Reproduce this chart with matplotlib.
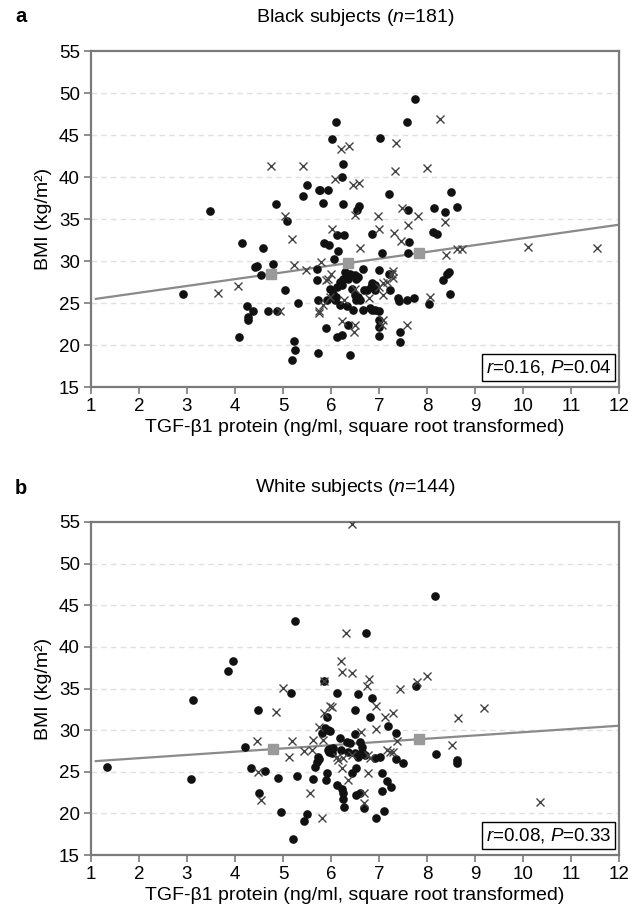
import matplotlib
matplotlib.use("Agg")
import matplotlib.pyplot as plt
import numpy as np

plt.rcParams['font.family'] = ['Liberation Sans', 'DejaVu Sans']
plt.rcParams['mathtext.fontset'] = 'custom'
plt.rcParams['mathtext.rm'] = 'Liberation Sans'
plt.rcParams['mathtext.it'] = 'Liberation Sans:italic'

# ---- panel a: Black subjects ----
a_dot_x = [5.50, 5.74, 5.42, 4.85, 3.48, 5.08, 4.15, 4.59,
           7.74, 6.10, 7.58, 6.03, 7.02, 6.24, 6.23, 5.77, 5.94, 7.20, 8.49, 5.83, 6.24, 6.59, 6.55,
           7.60, 8.15, 8.37, 8.62, 6.13, 6.27, 6.85, 8.12, 8.20, 7.63, 5.85, 5.96,
           2.92,
           6.15, 4.42, 4.45, 4.80, 6.06, 4.54, 5.70, 5.04, 5.31, 4.24, 4.38, 4.28, 4.28, 4.68, 4.88,
           5.72, 5.91, 6.36, 5.89, 6.12, 6.22, 4.09, 5.22, 5.25, 5.18, 5.72, 6.40,
           7.06, 7.61, 6.67, 7.00, 7.21, 8.45, 8.42, 8.33, 6.85, 6.92, 6.69, 7.22, 6.60, 7.40, 7.42,
           7.58, 7.72, 8.04, 8.47, 6.66, 6.85, 6.92, 7.01, 6.99, 6.99, 6.99, 7.44, 7.44,
           5.70, 6.29, 6.40, 6.50, 6.57, 6.53, 6.36, 6.26, 6.19, 6.83, 6.74, 6.92, 5.98, 6.12, 6.22,
           6.05, 6.43, 6.50, 6.53, 6.57, 6.08, 6.10, 6.19, 6.33, 6.46, 6.81]
a_dot_y = [39.0, 38.5, 37.7, 36.8, 36.0, 34.8, 32.1, 31.5,
           49.3, 46.6, 46.6, 44.5, 44.6, 41.5, 40.0, 38.5, 38.5, 38.0, 38.2, 36.9, 36.8, 36.5, 36.1,
           36.1, 36.3, 35.8, 36.4, 33.1, 33.1, 33.2, 33.4, 33.2, 32.3, 32.2, 31.9,
           26.1,
           31.2, 29.3, 29.4, 29.6, 30.2, 28.3, 27.7, 26.5, 25.0, 24.6, 24.0, 23.3, 23.0, 24.1, 24.1,
           25.4, 25.4, 22.4, 22.0, 20.9, 21.2, 21.0, 20.5, 19.4, 18.2, 19.1, 18.8,
           31.0, 30.9, 29.0, 28.9, 28.5, 28.7, 28.5, 27.7, 27.4, 27.1, 26.5, 26.5, 25.4, 25.6, 25.2,
           25.4, 25.6, 24.9, 26.1, 24.2, 24.2, 24.2, 24.1, 23.0, 22.2, 21.1, 21.5, 20.4,
           29.0, 28.7, 28.5, 28.3, 28.1, 27.8, 27.9, 27.9, 27.5, 26.9, 26.5, 26.5, 26.7, 26.9, 27.1,
           26.1, 26.7, 25.9, 25.4, 25.7, 25.4, 25.7, 24.8, 24.6, 24.2, 24.4]
a_cross_x = [4.76, 5.41, 5.05, 5.19, 8.28, 6.21, 6.38, 7.36, 7.33, 8.00, 6.09, 6.46, 6.58, 6.49,
             7.48, 6.98, 7.82, 7.60, 8.38, 7.01, 6.03, 7.31, 7.45, 6.60, 10.10, 11.54, 3.65, 5.23,
             5.48, 5.80, 4.07, 4.94, 5.75, 6.22, 6.47, 6.50, 8.40, 8.62, 8.72, 7.30, 7.27, 7.09,
             7.16, 6.99, 7.30, 7.09, 6.80, 8.06, 7.09, 7.06, 7.58, 5.93, 6.01, 5.90, 6.50, 5.98,
             6.27, 5.84, 5.76]
a_cross_y = [41.3, 41.3, 35.3, 32.6, 46.9, 43.3, 43.7, 44.0, 40.7, 41.1, 39.8, 39.0, 39.3, 35.5,
             36.3, 35.4, 35.4, 34.3, 34.6, 33.8, 33.8, 33.3, 32.4, 31.5, 31.7, 31.5, 26.2, 29.5,
             28.9, 29.9, 27.0, 24.1, 24.0, 22.8, 21.6, 22.4, 30.7, 31.4, 31.4, 28.8, 28.5, 27.4,
             27.5, 26.9, 28.0, 26.0, 25.6, 25.7, 23.0, 22.4, 22.4, 27.9, 28.5, 27.7, 26.7, 25.7,
             25.4, 24.8, 23.8]
a_fit = (24.6, 0.81)            # intercept, slope
a_fit_range = (1.1, 12.0)
a_means_x = [4.76, 6.36, 7.84]
a_stats = r'$\it{r}$=0.16, $\it{P}$=0.04'
a_title = r'Black subjects ($\it{n}$=181)'

# ---- panel b: White subjects ----
b_dot_x = [5.25, 3.96, 3.86, 3.13, 5.85, 5.16, 4.47, 4.20, 1.33, 3.08, 4.33, 4.63, 4.89, 5.29,
           4.49, 4.96, 5.20, 5.44, 5.49, 5.63, 5.89, 5.67, 5.70, 5.72, 5.74, 5.81, 5.87, 5.94,
           5.91, 5.91, 5.94,
           6.73, 7.77, 6.13, 6.57, 6.86, 6.51, 6.81,
           5.98, 7.18, 7.35, 6.19, 6.33, 6.40, 6.50, 6.60, 6.64, 5.96, 6.05, 5.96, 6.03, 6.20,
           6.36, 6.50, 6.57, 6.64, 6.71, 6.92, 7.02, 7.35, 7.49, 6.43, 6.53, 7.06, 7.16, 7.26,
           7.06, 6.12, 6.22, 6.26, 6.26, 6.27, 6.53, 6.60, 6.68, 6.94, 7.10,
           8.17, 8.19, 8.62, 8.62]
b_dot_y = [43.1, 38.3, 37.1, 33.6, 35.9, 34.5, 32.4, 28.0, 25.6, 24.1, 25.4, 25.1, 24.3, 24.5,
           22.4, 20.2, 16.9, 19.1, 19.9, 24.1, 24.0, 25.6, 26.2, 26.8, 26.5, 29.6, 30.3, 30.0,
           31.6, 24.9, 27.6,
           41.7, 35.3, 34.4, 34.3, 33.8, 32.4, 31.6,
           29.9, 30.5, 29.6, 29.0, 28.6, 28.5, 29.5, 28.6, 28.0, 27.7, 27.8, 27.4, 27.3, 27.6,
           27.4, 27.2, 26.8, 27.4, 27.0, 26.6, 26.8, 26.5, 26.1, 24.9, 25.4, 24.9, 23.9, 23.2,
           22.7, 23.4, 22.9, 22.4, 21.7, 20.8, 22.2, 22.4, 20.6, 19.4, 20.3,
           46.1, 27.1, 26.4, 26.0]
b_cross_x = [4.99, 4.85, 4.45, 5.18, 5.13, 4.47, 4.54, 5.56, 5.81, 5.44, 5.63, 5.61, 5.83, 5.74,
             5.86, 5.98, 5.85,
             6.31, 6.21, 6.22, 6.44, 6.79, 6.76, 7.44, 7.80, 6.93, 6.03, 7.13, 7.30,
             6.63, 6.94, 7.37, 7.16, 7.30, 6.12, 6.15, 6.26, 6.22, 6.43, 6.36, 6.78, 6.81, 7.23,
             6.78, 6.69, 6.68,
             8.00, 8.65, 9.19, 8.53, 10.35, 6.44]
b_cross_y = [35.1, 32.2, 28.7, 28.7, 26.8, 25.0, 21.6, 22.5, 19.5, 27.5, 28.8, 27.6, 28.8, 30.4,
             32.0, 32.9, 35.9,
             41.7, 38.3, 37.0, 36.9, 36.2, 35.3, 34.9, 35.8, 32.9, 32.8, 31.6, 32.0,
             29.8, 30.1, 28.7, 27.6, 27.4, 26.8, 26.4, 26.6, 25.4, 27.0, 24.0, 27.0, 26.6, 27.4,
             24.9, 22.5, 21.3,
             36.5, 31.5, 32.6, 28.2, 21.4, 54.8]
b_fit = (25.85, 0.39)
b_fit_range = (1.1, 12.0)
b_means_x = [4.80, 7.84]
b_stats = r'$\it{r}$=0.08, $\it{P}$=0.33'
b_title = r'White subjects ($\it{n}$=144)'

xticks = list(range(1, 13))
yticks = list(range(15, 60, 5))
xlabel = 'TGF-β1 protein (ng/ml, square root transformed)'
ylabel = 'BMI (kg/m²)'

W, H = 633, 915
fig = plt.figure(figsize=(W / 100, H / 100), dpi=100)


def panel(box, letter, title, dx, dy, cx, cy, fit, fit_range, means_x, stats):
    left, top, right, bottom = box
    ax = fig.add_axes([left / W, 1 - bottom / H, (right - left) / W, (bottom - top) / H])
    ax.set_xlim(1, 12)
    ax.set_ylim(15, 55)
    ax.set_xticks(xticks)
    ax.set_yticks(yticks)
    for y in yticks[1:-1]:
        ax.axhline(y, color='#e0e0e0', lw=1.0, ls=(0, (4, 3)), zorder=0)
    for s in ax.spines.values():
        s.set_color('#7a7a7a')
        s.set_linewidth(1.6)
    ax.tick_params(direction='out', length=5, width=1.2, color='#7a7a7a',
                   labelsize=13.5, pad=3)
    # regression line and tertile means
    xs = np.array(fit_range)
    ax.plot(xs, fit[0] + fit[1] * xs, color='#8a8a8a', lw=1.6, zorder=2)
    mx = np.array(means_x)
    ax.plot(mx, fit[0] + fit[1] * mx, ls='none', marker='s', ms=7,
            color='#9a9a9a', zorder=4)
    ax.plot(dx, dy, ls='none', marker='o', ms=5.2, color='#111111', zorder=3)
    ax.plot(cx, cy, ls='none', marker='x', ms=5.5, mew=1.0, color='#444444', zorder=3)
    ax.text(0.985, 0.03, stats, transform=ax.transAxes, ha='right', va='bottom',
            fontsize=13.5, bbox=dict(boxstyle='square,pad=0.2', fc='white', ec='black', lw=1.0),
            zorder=5)
    ax.set_ylabel(ylabel, fontsize=14, labelpad=5)
    ax.set_xlabel(xlabel, fontsize=14, labelpad=3)
    fig.text(15 / W, 1 - (top - 34) / H, letter, fontsize=14.5, fontweight='bold',
             ha='left', va='center')
    fig.text((left + right) / 2 / W, 1 - (top - 34) / H, title, fontsize=14,
             ha='center', va='center')
    return ax


panel((91, 51, 619, 387), 'a', a_title, a_dot_x, a_dot_y, a_cross_x, a_cross_y,
      a_fit, a_fit_range, a_means_x, a_stats)
panel((91, 522, 619, 855), 'b', b_title, b_dot_x, b_dot_y, b_cross_x, b_cross_y,
      b_fit, b_fit_range, b_means_x, b_stats)

fig.savefig('out.png', dpi=100)
